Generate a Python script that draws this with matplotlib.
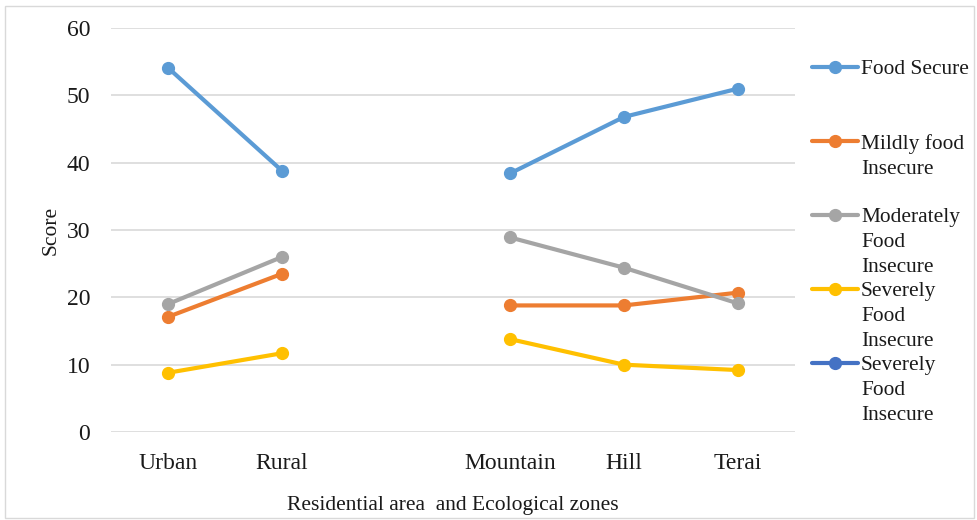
import numpy as np
import matplotlib.pyplot as plt
from matplotlib.lines import Line2D
from matplotlib.patches import Rectangle

# Datos (la tercera categoría es un hueco vacío)
categorias = ["Urban", "Rural", "", "Mountain", "Hill", "Terai"]
food_secure = [54.1, 38.8, np.nan, 38.4, 46.8, 51.0]
mildly = [17.1, 23.5, np.nan, 18.8, 18.8, 20.7]
moderately = [19.0, 26.0, np.nan, 28.9, 24.4, 19.1]
severely = [8.8, 11.7, np.nan, 13.8, 10.0, 9.2]
severely_2 = [np.nan] * 6

series = [
    ("Food Secure", food_secure, "#5B9BD5"),
    ("Mildly food\nInsecure", mildly, "#ED7D31"),
    ("Moderately\nFood\nInsecure", moderately, "#A5A5A5"),
    ("Severely\nFood\nInsecure", severely, "#FFC000"),
    ("Severely\nFood\nInsecure", severely_2, "#4472C4"),
]

plt.rcParams["font.family"] = ["Liberation Serif", "DejaVu Serif"]

fig = plt.figure(figsize=(9.78, 5.2), dpi=100)
ax = fig.add_axes([0.1135, 0.1692, 0.6994, 0.7769])

x = np.arange(len(categorias))
for nombre, valores, color in series:
    ax.plot(x, valores, color=color, linewidth=3.0, marker="o", markersize=8.5,
            solid_capstyle="round")

ax.set_xlim(-0.5, len(categorias) - 0.5)
ax.set_ylim(0, 60)
ax.set_yticks(range(0, 61, 10))
ax.set_xticks(x)
ax.set_xticklabels(categorias)
ax.tick_params(axis="both", length=0, labelsize=17, colors="#1a1a1a")
ax.tick_params(axis="y", pad=15)
ax.tick_params(axis="x", pad=15)
ax.grid(axis="y", color="#D9D9D9", linewidth=1.2)
ax.set_axisbelow(True)
for s in ax.spines.values():
    s.set_visible(False)

ax.set_ylabel("Score", fontsize=15.5, color="#1a1a1a", labelpad=4)
ax.set_xlabel("Residential area  and Ecological zones", fontsize=15.5,
              color="#1a1a1a", labelpad=16)

# Leyenda manual (entradas espaciadas como en Excel)
W, H = 978, 520
for i, (nombre, valores, color) in enumerate(series):
    ym = 67 + 74 * i
    fy = 1 - ym / H
    fig.add_artist(Line2D([812 / W, 858 / W], [fy, fy], color=color, linewidth=3.0,
                          solid_capstyle="round"))
    fig.add_artist(Line2D([835 / W], [fy], color=color, marker="o", markersize=8.5))
    fig.text(861 / W, 1 - (ym - 7) / H, nombre, fontsize=15.4, color="#1a1a1a",
             va="top", ha="left", linespacing=1.42)

# Marco exterior
fig.add_artist(Rectangle((5 / W, 2 / H), 969 / W, 512 / H, transform=fig.transFigure,
                         fill=False, edgecolor="#D9D9D9", linewidth=1))

fig.savefig("out.png", dpi=100)
